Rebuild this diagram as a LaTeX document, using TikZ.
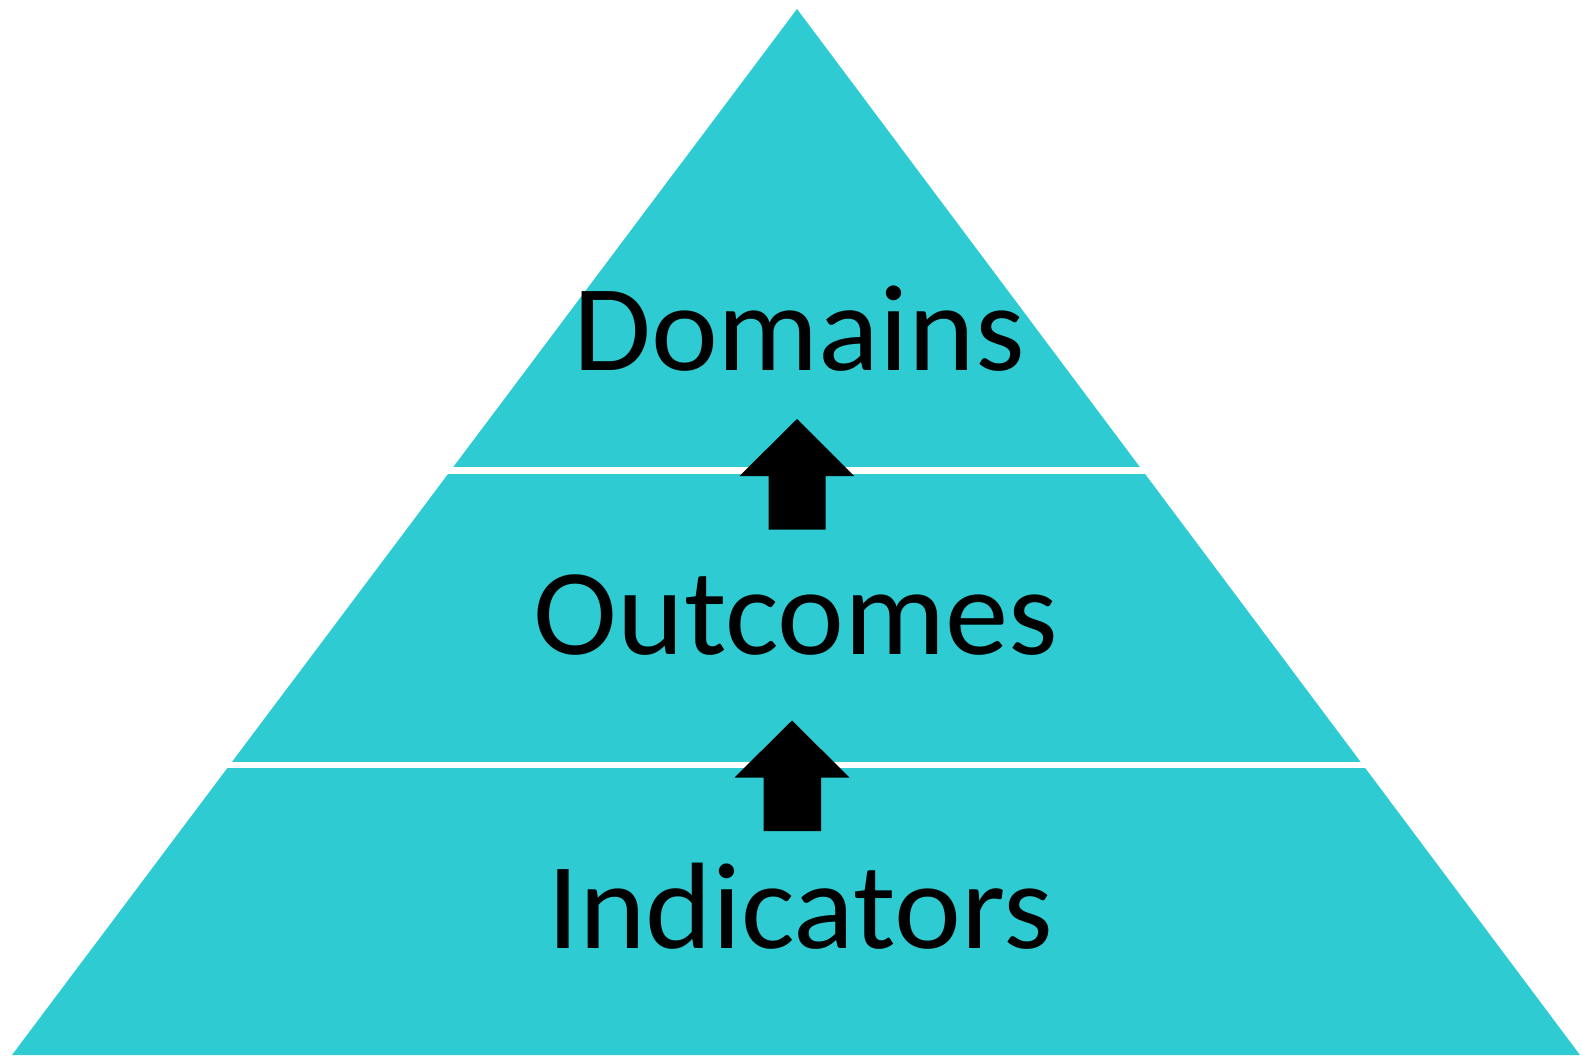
\documentclass[tikz,border=0pt]{standalone}
\usepackage{fontspec}
\setmainfont{Carlito}[FakeStretch=1.03]
\definecolor{pyrteal}{RGB}{46,204,210}
\begin{document}
\begin{tikzpicture}[x=1pt,y=-1pt,
  tier/.style={fill=pyrteal,draw=none},
  gap/.style={draw=white,line width=6.5pt},
  uparrow/.style={fill=black,draw=none},
  label/.style={anchor=base,inner sep=0pt,font=\fontsize{123}{140}\selectfont}]
\useasboundingbox (0,0) rectangle (1582,1055);
% pyramid body
\fill[tier] (797,9) -- (1580,1055) -- (12,1055) -- cycle;
% white separators between the tiers
\coordinate (g1l) at (400,470.5);
\coordinate (g1r) at (1200,470.5);
\coordinate (g2l) at (150,765);
\coordinate (g2r) at (1450,765);
\draw[gap] (g1l) -- (g1r);
\draw[gap] (g2l) -- (g2r);
% block arrows pointing upward
\fill[uparrow] (797,419) -- (854,476) -- (825.5,476) -- (825.5,529.5)
  -- (768.5,529.5) -- (768.5,476) -- (739.5,476) -- cycle;
\fill[uparrow] (792,720.5) -- (849.5,777.5) -- (821,777.5) -- (821,831)
  -- (763.5,831) -- (763.5,777.5) -- (734.5,777.5) -- cycle;
% tier labels
\node[label] (dom) at (799,370) {Domains};
\node[label] (out) at (796,654) {Outcomes};
\node[label] (ind) at (800,948) {Indicators};
\end{tikzpicture}
\end{document}
